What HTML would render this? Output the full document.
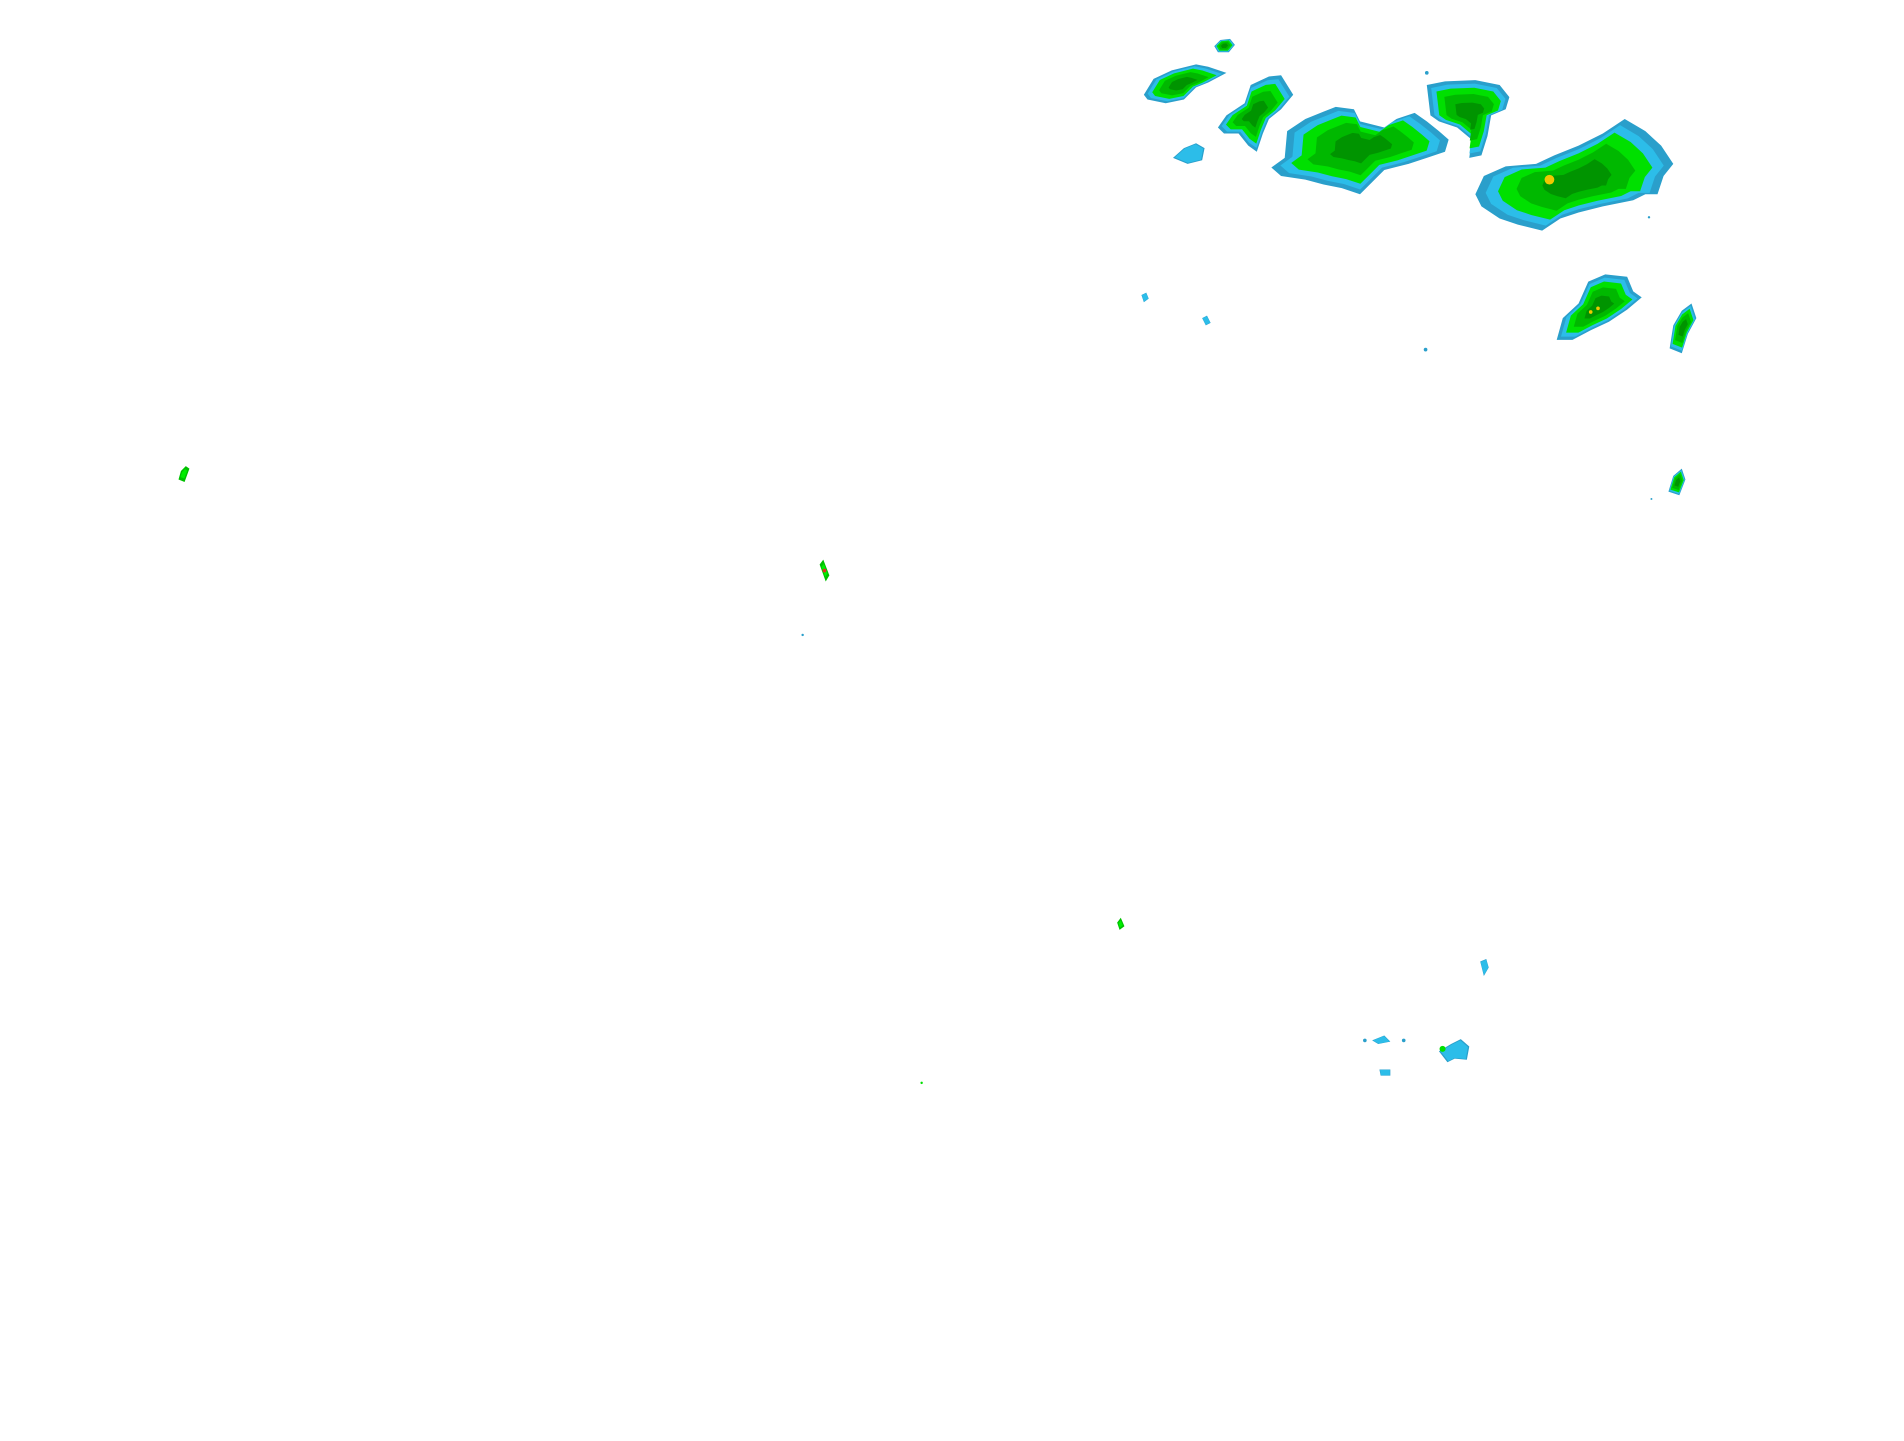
<!DOCTYPE html>
<html><head><meta charset="utf-8"><style>
html,body{margin:0;padding:0;background:#fff;}
svg{display:block;}
</style></head><body>
<svg id="s" width="1904" height="1441" viewBox="0 0 1568 1187" preserveAspectRatio="none" xmlns="http://www.w3.org/2000/svg">
<g id="g"></g>
</svg>
<script>
var blobs=[
 ["942,78 950,65 965,58 985,53 995,55 1010,60 995,68 985,72 975,82 960,85 945,82",1],
 ["1000,38 1005,33 1013,32 1017,37 1012,43 1003,43",1],
 ["1003,105 1010,95 1025,85 1030,70 1045,63 1055,62 1065,78 1055,90 1045,98 1040,110 1035,125 1028,120 1020,110 1008,110",1],
 ["966,130 975,122 985,118 992,122 990,132 978,135",0],
 ["1047,138 1058,130 1060,108 1075,98 1090,92 1100,88 1115,90 1120,100 1140,105 1150,98 1165,93 1175,100 1185,108 1193,115 1190,125 1175,130 1160,135 1140,140 1130,150 1120,160 1105,155 1090,152 1075,148 1055,145",1],
 ["1175,70 1190,67 1215,66 1235,70 1243,80 1240,90 1228,95 1225,112 1220,128 1210,130 1212,115 1200,105 1185,100 1178,95",1],
 ["1215,160 1222,145 1240,137 1265,135 1280,128 1300,120 1320,110 1338,98 1355,108 1368,120 1378,135 1370,145 1365,160 1355,160 1345,165 1320,170 1300,175 1285,180 1270,190 1250,185 1235,180 1220,170",1],
 ["1282,280 1287,262 1300,250 1308,232 1322,226 1340,228 1345,240 1352,245 1340,255 1325,265 1310,272 1295,280",1],
 ["1375,287 1378,268 1385,256 1393,250 1397,262 1390,275 1385,291",1],
 ["1374,405 1378,392 1385,386 1388,395 1383,408",1],
 ["940,243 944,241 946,246 942,249",0],
 ["990,262 994,260 997,266 993,268",0],
 ["1219,792 1224,790 1226,797 1222,804",0],
 ["1130,857 1140,853 1145,858 1135,860",0],
 ["1136,881 1145,881 1145,886 1137,886",0],
 ["1185,866 1195,860 1203,856 1210,862 1208,873 1198,872 1192,875",0],
 ["147,395 149,388 153,384 156,386 152,397",2],
 ["675,465 678,461 683,474 680,479",2],
 ["920,760 923,756 926,763 922,766",2]
];
var g=document.getElementById('g');
function poly(pts,fill,sc,cx,cy){
 var p=document.createElementNS('http://www.w3.org/2000/svg','polygon');
 p.setAttribute('points',pts);p.setAttribute('fill',fill);
 if(sc!==1)p.setAttribute('transform','translate('+cx+','+cy+') scale('+sc+') translate('+(-cx)+','+(-cy)+')');
 g.appendChild(p);
}
blobs.forEach(function(b){
 var a=b[0].split(' ').map(function(s){return s.split(',').map(Number)});
 var cx=0,cy=0;a.forEach(function(q){cx+=q[0];cy+=q[1]});cx/=a.length;cy/=a.length;
 if(b[1]===2){poly(b[0],'#00c000',1,cx,cy);poly(b[0],'#00ee00',0.6,cx,cy);return;}
 poly(b[0],'#2a9fcb',1,cx,cy);
 poly(b[0],'#2cbde9',0.9,cx,cy);
 if(b[1]){
  poly(b[0],'#00e000',0.78,cx,cy);
  poly(b[0],'#00b800',0.6,cx,cy);
  poly(b[0],'#009400',0.35,cx,cy);
 }
});
function dot(x,y,r,c){var e=document.createElementNS('http://www.w3.org/2000/svg','circle');e.setAttribute('cx',x);e.setAttribute('cy',y);e.setAttribute('r',r);e.setAttribute('fill',c);g.appendChild(e);}
dot(1276,148,4,'#f0c800');dot(1310,257,1.5,'#f0c800');dot(1316,254,1.5,'#f0c800');
dot(679,470,1.5,'#e03020');dot(661,523,1,'#2a9fcb');dot(1174,288,1.5,'#2a9fcb');dot(759,892,1,'#00e000');
dot(1188,864,2.5,'#00e000');dot(1360,411,0.8,'#2a9fcb');dot(1358,179,1,'#2a9fcb');dot(1124,857,1.5,'#2a9fcb');dot(1156,857,1.5,'#2a9fcb');dot(1175,60,1.5,'#2a9fcb');
</script>
</body></html>
